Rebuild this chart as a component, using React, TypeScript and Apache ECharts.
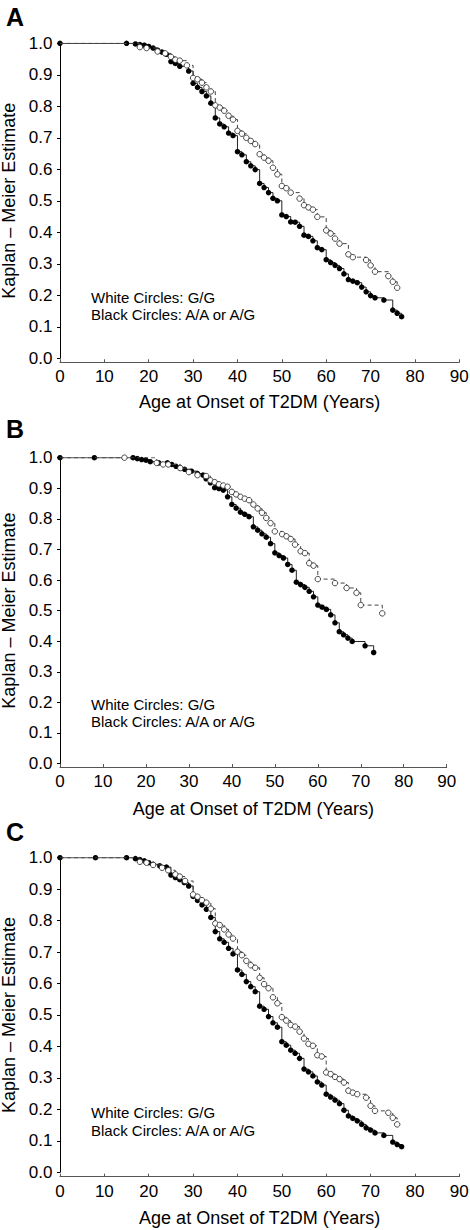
import React, { useEffect, useRef } from "react";
import * as echarts from "echarts";

// ---------- data ----------
const xTickValues = [0, 10, 20, 30, 40, 50, 60, 70, 80, 90];
const yTickValues = [0, 0.1, 0.2, 0.3, 0.4, 0.5, 0.6, 0.7, 0.8, 0.9, 1.0];
const panelLetters = ["A", "B", "C"];
const legendWhite = "White Circles: G/G";
const legendBlack = "Black Circles: A/A or A/G";
const xTitle = "Age at Onset of T2DM (Years)";
const yTitle = "Kaplan – Meier Estimate";

// Panel A
const ageABlack = [0, 15, 17, 18, 19, 20, 21, 22, 23, 24, 25, 26, 27, 29, 30, 31, 32, 33, 34, 35, 36, 37, 38, 39, 40, 41, 42, 43, 44, 45, 46, 47, 48, 49, 50, 51, 52, 53, 54, 55, 56, 57, 58, 59, 60, 61, 62, 63, 64, 65, 66, 67, 68, 69, 70, 71, 73, 75, 76, 77];
const survABlack = [1, 1, 0.998, 0.996, 0.994, 0.99, 0.985, 0.978, 0.972, 0.965, 0.942, 0.936, 0.927, 0.912, 0.873, 0.86, 0.847, 0.833, 0.81, 0.763, 0.744, 0.735, 0.715, 0.707, 0.656, 0.646, 0.624, 0.611, 0.599, 0.555, 0.542, 0.526, 0.508, 0.5, 0.455, 0.45, 0.433, 0.432, 0.419, 0.391, 0.387, 0.373, 0.351, 0.345, 0.313, 0.304, 0.295, 0.285, 0.268, 0.25, 0.245, 0.24, 0.226, 0.211, 0.199, 0.192, 0.185, 0.153, 0.143, 0.132];
const ageAWhite = [0, 15, 18, 19.5, 22, 23.7, 25, 26, 27, 28.6, 30, 31, 32, 33, 34, 35, 36, 37, 38, 39, 40, 41, 42, 43, 44, 45, 46, 47, 48, 49, 50, 51, 52, 54, 55, 56, 57, 58, 60, 61, 62, 63, 65, 66, 69, 70, 71, 74, 75, 76];
const survAWhite = [1, 1, 0.988, 0.985, 0.974, 0.968, 0.957, 0.948, 0.945, 0.93, 0.89, 0.886, 0.875, 0.86, 0.847, 0.803, 0.796, 0.786, 0.77, 0.758, 0.722, 0.713, 0.7, 0.69, 0.68, 0.648, 0.637, 0.627, 0.605, 0.584, 0.547, 0.54, 0.526, 0.507, 0.486, 0.479, 0.472, 0.449, 0.406, 0.396, 0.38, 0.364, 0.33, 0.321, 0.312, 0.295, 0.275, 0.261, 0.243, 0.224];

// Panel B
const ageBBlack = [0, 8, 17, 18, 19, 20, 21, 23, 25, 26, 27, 28, 29, 30.6, 32, 33.3, 34, 35, 36, 37, 38, 39, 40, 41, 42, 43, 44, 45, 46, 47, 48, 49, 50, 51, 52, 53, 54, 55, 56, 57, 58, 59, 60, 61, 62, 63, 64, 65, 66, 67, 68, 71, 73];
const survBBlack = [1, 1, 1, 0.997, 0.994, 0.992, 0.987, 0.983, 0.983, 0.978, 0.972, 0.967, 0.962, 0.956, 0.948, 0.943, 0.931, 0.918, 0.902, 0.899, 0.894, 0.872, 0.847, 0.835, 0.822, 0.815, 0.807, 0.774, 0.763, 0.751, 0.74, 0.719, 0.689, 0.68, 0.672, 0.651, 0.632, 0.593, 0.585, 0.576, 0.563, 0.545, 0.518, 0.511, 0.504, 0.486, 0.46, 0.431, 0.421, 0.41, 0.399, 0.385, 0.363];
const ageBWhite = [0, 15, 22.5, 24, 25.2, 28, 30, 32, 34, 35, 36, 37, 38, 39, 40, 41, 42, 43, 44, 45, 46, 47, 48, 49, 50, 51.7, 52.7, 53.7, 54.7, 56, 57, 58, 59, 60, 64, 66.7, 69, 70, 75];
const survBWhite = [1, 1, 0.983, 0.978, 0.978, 0.966, 0.953, 0.943, 0.94, 0.926, 0.92, 0.913, 0.909, 0.905, 0.888, 0.88, 0.872, 0.866, 0.861, 0.847, 0.834, 0.82, 0.803, 0.786, 0.759, 0.75, 0.743, 0.734, 0.716, 0.694, 0.688, 0.655, 0.647, 0.603, 0.59, 0.574, 0.558, 0.518, 0.491];

// Panel C
const ageCBlack = [0, 8, 15, 17, 18, 19, 20, 21, 22.5, 24, 25, 26, 27, 28, 29, 30, 31, 32, 33, 34, 35, 36, 37, 38, 39, 40, 41, 42, 43, 44, 45, 46, 47, 48, 49, 50, 51, 52, 53, 54, 55, 56, 57, 58, 59, 60, 61, 62, 63, 64, 65, 66, 67, 68, 69, 70, 71, 73, 75, 76, 77];
const survCBlack = [1, 1, 1, 0.997, 0.994, 0.99, 0.984, 0.979, 0.974, 0.97, 0.945, 0.937, 0.93, 0.921, 0.91, 0.877, 0.864, 0.85, 0.836, 0.81, 0.765, 0.742, 0.731, 0.712, 0.694, 0.643, 0.629, 0.606, 0.59, 0.574, 0.528, 0.518, 0.495, 0.475, 0.461, 0.415, 0.404, 0.388, 0.378, 0.362, 0.328, 0.319, 0.306, 0.287, 0.277, 0.248, 0.239, 0.229, 0.218, 0.197, 0.179, 0.171, 0.163, 0.152, 0.141, 0.134, 0.125, 0.117, 0.096, 0.088, 0.081];
const ageCWhite = [0, 15, 18, 19.5, 21, 23, 24.4, 26, 27, 28.2, 30, 31, 32, 33, 34, 35, 36, 37, 38, 39, 40, 41, 42, 43, 44, 45, 46, 47, 48, 49, 50, 51, 52, 53, 54, 55, 56, 57, 58, 59, 60, 61, 62, 63, 64, 65, 66, 67, 69, 70, 71, 74, 75, 76];
const survCWhite = [1, 1, 0.987, 0.984, 0.977, 0.968, 0.96, 0.947, 0.94, 0.926, 0.883, 0.876, 0.865, 0.857, 0.838, 0.791, 0.786, 0.772, 0.756, 0.743, 0.701, 0.69, 0.672, 0.658, 0.65, 0.618, 0.598, 0.585, 0.556, 0.537, 0.493, 0.482, 0.468, 0.463, 0.447, 0.425, 0.408, 0.402, 0.372, 0.368, 0.317, 0.312, 0.303, 0.296, 0.285, 0.259, 0.253, 0.248, 0.237, 0.211, 0.195, 0.189, 0.173, 0.152];

// leading white points that carry no visible circle (hidden under the black curve start)
const whiteHiddenLeadA = 2;
const whiteHiddenLeadB = 1;
const whiteHiddenLeadC = 2;

// ---------- layout ----------
const FONT = "'Liberation Sans', Arial, Helvetica, sans-serif";
const panels = [
  { top: 43.3, height: 315, left: 60, right: 10.7, xOffset: 4, letterY: 16.5, ann: 297.3, xGap: 31 },
  { top: 457.7, height: 305.8, left: 60, right: 23.3, xOffset: 3.5, letterY: 429, ann: 704.3, xGap: 33 },
  { top: 857.7, height: 314.5, left: 60, right: 10.7, xOffset: 4.5, letterY: 832, ann: 1112.7, xGap: 32 },
];

function zip(ages: number[], surv: number[], hidden = 0) {
  return ages.map((a, i) =>
    i < hidden ? { value: [a, surv[i]], symbol: "none" } : { value: [a, surv[i]] }
  );
}

export default function App() {
  const ref = useRef<HTMLDivElement>(null);
  useEffect(() => {
    if (!ref.current) return;
    const chart = echarts.init(ref.current, undefined, { renderer: "svg" });
    const blackSets = [
      zip(ageABlack, survABlack),
      zip(ageBBlack, survBBlack),
      zip(ageCBlack, survCBlack),
    ];
    const whiteSets = [
      zip(ageAWhite, survAWhite, whiteHiddenLeadA),
      zip(ageBWhite, survBWhite, whiteHiddenLeadB),
      zip(ageCWhite, survCWhite, whiteHiddenLeadC),
    ];
    const grid = panels.map((p) => ({
      left: p.left,
      right: p.right,
      top: p.top,
      height: p.height,
      containLabel: false,
      outerBoundsMode: "none",
    }));
    const xAxis = panels.map((p, i) => ({
      type: "value",
      gridIndex: i,
      min: xTickValues[0],
      max: xTickValues[xTickValues.length - 1],
      interval: xTickValues[1] - xTickValues[0],
      offset: p.xOffset,
      name: xTitle,
      nameLocation: "middle",
      nameGap: p.xGap,
      nameTextStyle: { fontFamily: FONT, fontSize: 18, color: "#000" },
      axisLine: { show: true, onZero: false, lineStyle: { color: "#555", width: 1 } },
      axisTick: { show: true, inside: true, length: 3, lineStyle: { color: "#555", width: 1 } },
      axisLabel: { fontFamily: FONT, fontSize: 17, color: "#000", margin: 6 },
      splitLine: { show: false },
    }));
    const yAxis = panels.map((p, i) => ({
      type: "value",
      gridIndex: i,
      min: yTickValues[0],
      max: yTickValues[yTickValues.length - 1],
      interval: 0.1,
      offset: 1.5,
      name: yTitle,
      nameLocation: "middle",
      nameGap: 36,
      nameTextStyle: { fontFamily: FONT, fontSize: 18, color: "#000" },
      axisLine: { show: true, lineStyle: { color: "#000", width: 1 } },
      axisTick: { show: true, inside: false, length: 3, lineStyle: { color: "#000", width: 1 } },
      axisLabel: {
        fontFamily: FONT,
        fontSize: 17,
        color: "#000",
        margin: 6,
        formatter: (v: number) => v.toFixed(1),
      },
      splitLine: { show: false },
    }));
    const series: any[] = [];
    panels.forEach((_, i) => {
      series.push({
        type: "line",
        name: "A/A or A/G",
        xAxisIndex: i,
        yAxisIndex: i,
        step: "end",
        data: blackSets[i],
        symbol: "circle",
        symbolSize: 5.5,
        showAllSymbol: true,
        itemStyle: { color: "#000", borderWidth: 0 },
        lineStyle: { color: "#222", width: 1 },
        z: 2,
      });
      series.push({
        type: "line",
        name: "G/G",
        xAxisIndex: i,
        yAxisIndex: i,
        step: "end",
        data: whiteSets[i],
        symbol: "circle",
        symbolSize: 5.5,
        showAllSymbol: true,
        itemStyle: { color: "#fff", borderColor: "#333", borderWidth: 0.9 },
        lineStyle: { color: "#444", width: 1, type: [4, 3] },
        z: 3,
      });
    });
    const graphic: any[] = [];
    panels.forEach((p, i) => {
      graphic.push({
        type: "text",
        x: 6,
        y: p.letterY,
        style: {
          text: panelLetters[i],
          font: `bold 25px ${FONT}`,
          fill: "#000",
          verticalAlign: "middle",
        },
      });
      graphic.push({
        type: "text",
        x: 91,
        y: p.ann,
        style: { text: legendWhite, font: `15px ${FONT}`, fill: "#000", verticalAlign: "middle" },
      });
      graphic.push({
        type: "text",
        x: 91,
        y: p.ann + 17.5,
        style: { text: legendBlack, font: `15px ${FONT}`, fill: "#000", verticalAlign: "middle" },
      });
    });
    chart.setOption({
      animation: false,
      backgroundColor: "#fff",
      grid,
      xAxis,
      yAxis,
      series,
      graphic,
    });
    return () => chart.dispose();
  }, []);
  return (
    <div
      ref={ref}
      style={{ position: "absolute", left: 0, top: 0, width: 470, height: 1230, background: "#fff" }}
    />
  );
}
